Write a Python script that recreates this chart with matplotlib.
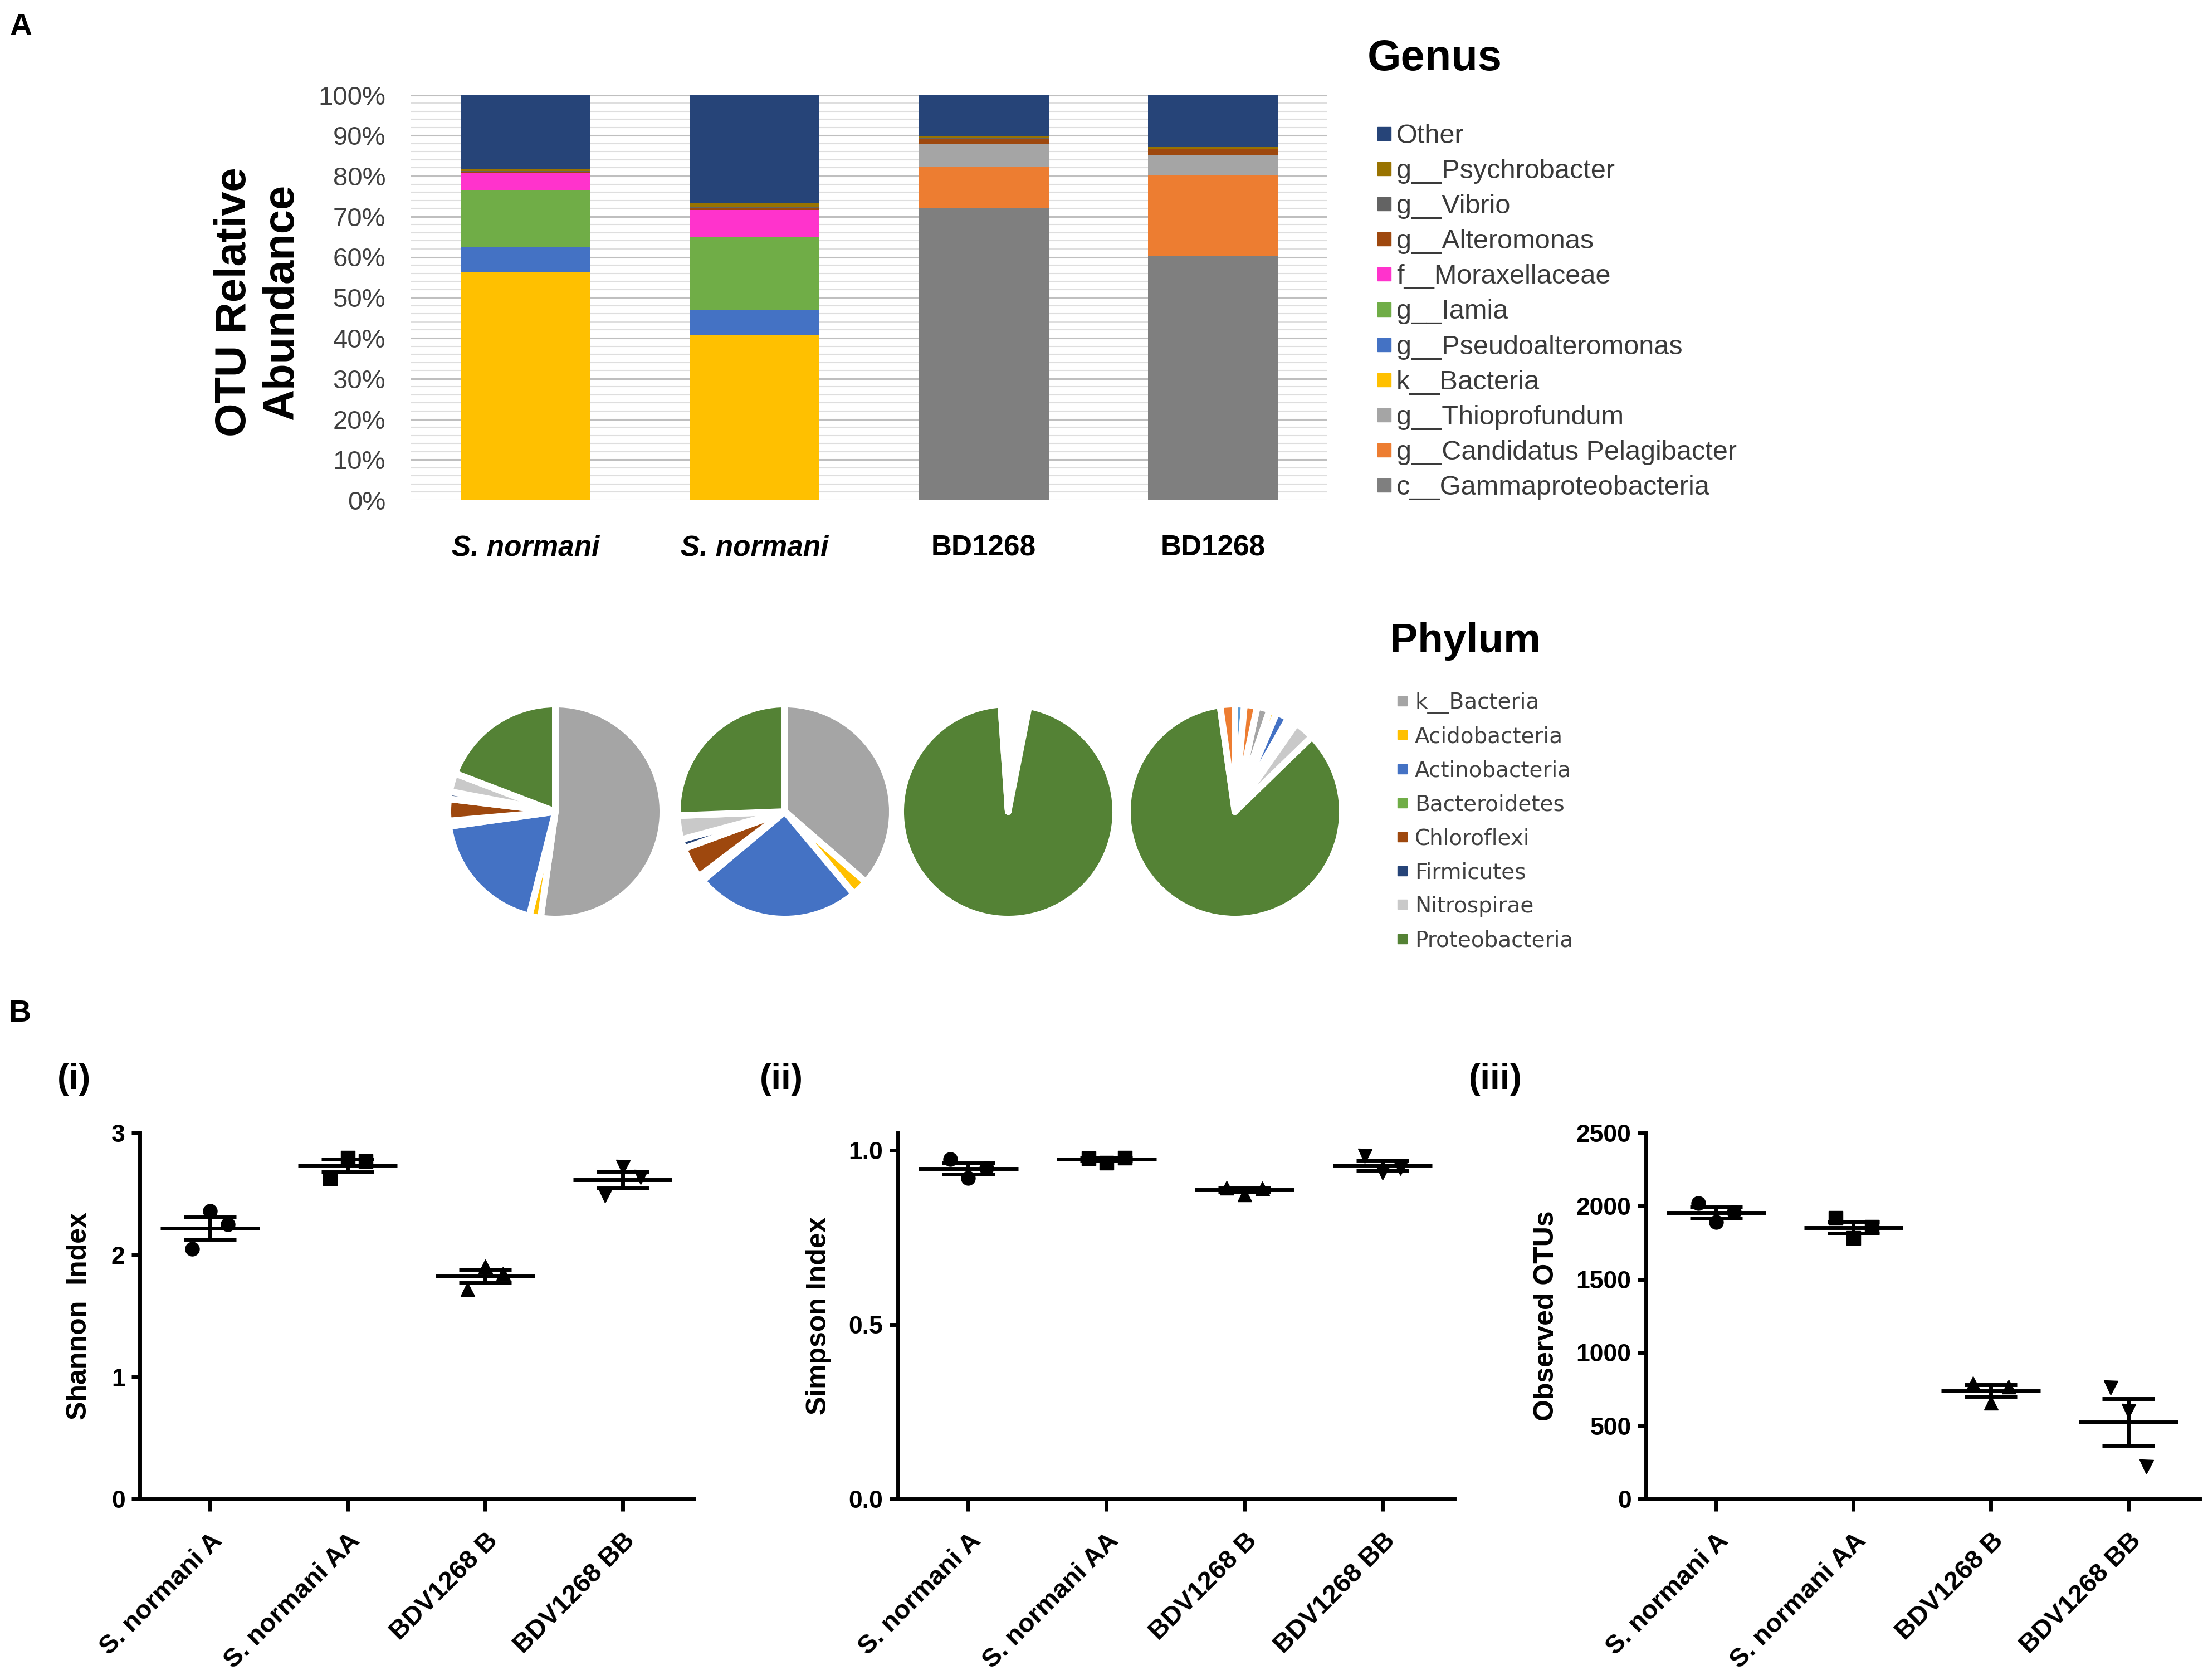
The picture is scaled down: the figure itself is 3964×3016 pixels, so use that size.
import matplotlib
matplotlib.use('Agg')
import matplotlib.pyplot as plt
from matplotlib.patches import Rectangle
from matplotlib.ticker import MultipleLocator, FixedLocator, FuncFormatter
import numpy as np

plt.rcParams['font.family'] = ['Liberation Sans', 'DejaVu Sans']

W, H = 3964, 3016
def fx(p):
    return p / W
def fy(p):
    return 1 - p / H

# ------------------------------------------------------------------ data
# Panel A - genus level relative abundance (%), stacked bottom -> top
samples = ['S. normani', 'S. normani', 'BD1268', 'BD1268']
sample_italic = [True, True, False, False]

genus_names = ['c__Gammaproteobacteria', 'g__Candidatus Pelagibacter', 'g__Thioprofundum',
               'k__Bacteria', 'g__Pseudoalteromonas', 'g__Iamia', 'f__Moraxellaceae',
               'g__Alteromonas', 'g__Vibrio', 'g__Psychrobacter', 'Other']
genus_colors = ['#7F7F7F', '#ED7D31', '#A5A5A5', '#FFC000', '#4472C4', '#70AD47',
                '#FF33CC', '#9E480E', '#636363', '#997300', '#264478']

gammaproteobacteria = [0.0, 0.0, 72.0, 60.4]
candidatus_pelagibacter = [0.0, 0.0, 10.4, 19.7]
thioprofundum = [0.0, 0.0, 5.6, 5.1]
k_bacteria = [56.4, 40.8, 0.0, 0.0]
pseudoalteromonas = [6.2, 6.2, 0.0, 0.0]
iamia = [14.0, 18.0, 0.0, 0.0]
moraxellaceae = [4.1, 6.6, 0.0, 0.0]
alteromonas = [0.3, 0.4, 1.2, 1.4]
vibrio = [0.2, 0.3, 0.3, 0.2]
psychrobacter = [0.6, 0.9, 0.4, 0.3]
other = [18.2, 26.8, 10.1, 12.9]
genus_values = [gammaproteobacteria, candidatus_pelagibacter, thioprofundum, k_bacteria,
                pseudoalteromonas, iamia, moraxellaceae, alteromonas, vibrio,
                psychrobacter, other]

# Panel A - phylum level pies (%, clockwise from start angle)
phyla = ['k__Bacteria', 'Acidobacteria', 'Actinobacteria', 'Bacteroidetes',
         'Chloroflexi', 'Firmicutes', 'Nitrospirae', 'Proteobacteria']
phyla_colors = ['#A5A5A5', '#FFC000', '#4472C4', '#70AD47', '#9E480E', '#264478',
                '#C9C9C9', '#548235']
minor_phyla_colors = ['#ED7D31', '#5B9BD5', '#ED7D31']   # unlabelled minor phyla
pie_1 = [52.2, 1.7, 18.9, 0.8, 3.3, 1.1, 2.8, 19.2, 0.0, 0.0, 0.0]
pie_2 = [36.4, 2.5, 25.0, 0.8, 4.7, 1.4, 3.6, 25.6, 0.0, 0.0, 0.0]
pie_3 = [0.5, 0.3, 0.6, 0.3, 0.3, 0.3, 0.8, 95.8, 0.4, 0.3, 0.4]
pie_4 = [1.9, 1.1, 1.9, 0.3, 0.3, 0.8, 3.0, 84.2, 2.2, 1.4, 1.9]
pies = [pie_1, pie_2, pie_3, pie_4]

# Panel B - alpha diversity (three replicates per group)
groups = ['S. normani A', 'S. normani AA', 'BDV1268 B', 'BDV1268 BB']
shannon = [[2.05, 2.36, 2.25], [2.63, 2.80, 2.77], [1.72, 1.91, 1.85], [2.49, 2.72, 2.64]]
simpson = [[0.975, 0.92, 0.95], [0.978, 0.965, 0.98], [0.893, 0.875, 0.892], [0.985, 0.937, 0.95]]
observed_otus = [[2020, 1890, 1960], [1920, 1785, 1860], [790, 660, 770], [760, 600, 220]]

# ------------------------------------------------------------------ figure
fig = plt.figure(figsize=(W / 100, H / 100), dpi=100)

fig.text(fx(18), fy(63), 'A', fontsize=40, fontweight='bold', va='baseline', ha='left')
fig.text(fx(15), fy(1834), 'B', fontsize=40, fontweight='bold', va='baseline', ha='left')

# ---- stacked bars
axA = fig.add_axes([fx(738), fy(898), fx(2383) - fx(738), fy(170.5) - fy(898)])
x = np.arange(len(samples))
bottom = np.zeros(len(samples))
for vals, col in zip(genus_values, genus_colors):
    axA.bar(x, vals, width=0.567, bottom=bottom, color=col, linewidth=0, zorder=3)
    bottom += np.array(vals)
axA.set_xlim(-0.5, 3.5)
axA.set_ylim(0, 100)
axA.yaxis.set_major_locator(MultipleLocator(10))
axA.yaxis.set_minor_locator(FixedLocator([v for v in range(0, 101, 2) if v % 10]))
axA.yaxis.set_major_formatter(FuncFormatter(lambda v, p: f'{v:.0f}%'))
axA.grid(axis='y', which='major', color='#BFBFBF', lw=2.2, zorder=0)
axA.grid(axis='y', which='minor', color='#DEDEDE', lw=1.5, zorder=0)
axA.set_axisbelow(True)
for s in axA.spines.values():
    s.set_visible(False)
axA.tick_params(axis='both', which='both', length=0)
axA.tick_params(axis='y', pad=33, labelsize=34, labelcolor='#404040')
axA.set_xticks(x)
axA.set_xticklabels(samples, fontsize=37, fontweight='bold')
for lbl, it in zip(axA.get_xticklabels(), sample_italic):
    if it:
        lbl.set_fontstyle('italic')
axA.tick_params(axis='x', pad=44)

fig.text(fx(463), fy(542), 'OTU Relative\nAbundance', rotation=90, fontsize=56,
         fontweight='bold', ha='center', va='center', multialignment='center',
         linespacing=1.2)

# genus legend
fig.text(fx(2455), fy(126), 'Genus', fontsize=56, fontweight='bold', ha='left', va='baseline')
for i, (name, col) in enumerate(zip(genus_names[::-1], genus_colors[::-1])):
    yc = 240 + i * 63.1
    fig.add_artist(Rectangle((fx(2473), fy(yc + 12)), 24 / W, 24 / H, color=col,
                             transform=fig.transFigure))
    fig.text(fx(2507), fy(yc + 17), name, fontsize=35, color='#3A3A3A',
             ha='left', va='baseline')

# ---- pies
pie_cx = [997, 1409, 1810, 2217]
pie_cy = 1457
R = 193
pie_start = [90, 90, 90, 78]
pie_colors = phyla_colors + minor_phyla_colors
for cx, vals, st in zip(pie_cx, pies, pie_start):
    ax = fig.add_axes([fx(cx - R), fy(pie_cy + R), 2 * R / W, 2 * R / H])
    ax.pie(vals, colors=pie_colors, startangle=st, counterclock=False, radius=1,
           wedgeprops=dict(edgecolor='white', linewidth=8.6, joinstyle='round'))
    ax.set_xlim(-1, 1)
    ax.set_ylim(-1, 1)
    ax.set_aspect('equal')
    ax.axis('off')

# phylum legend
fig.text(fx(2495), fy(1171), 'Phylum', fontsize=54, fontweight='bold', ha='left', va='baseline')
for i, (name, col) in enumerate(zip(phyla, phyla_colors)):
    yc = 1258 + i * 61
    fig.add_artist(Rectangle((fx(2509), fy(yc + 8.5)), 17 / W, 17 / H, color=col,
                             transform=fig.transFigure))
    fig.text(fx(2540), fy(yc + 14), name, fontsize=28, color='#404040',
             ha='left', va='baseline', family=['DejaVu Sans'])

# ---- panel B
markers = ['o', 's', '^', 'v']
jitter = np.array([-0.13, 0.0, 0.13])

def scatter_panel(ax, data, ylim, yticks, yticklabels, ylabel, label_x):
    for i, vals in enumerate(data):
        vals = np.asarray(vals, dtype=float)
        m = vals.mean()
        s = vals.std(ddof=1) / np.sqrt(len(vals))
        ax.vlines(i, m - s, m + s, color='black', lw=5, zorder=2)
        ax.hlines([m - s, m + s], i - 0.19, i + 0.19, color='black', lw=5, zorder=2)
        ax.plot(i + jitter, vals, marker=markers[i], ls='none', color='black', ms=18,
                zorder=3, clip_on=False)
        ax.hlines(m, i - 0.36, i + 0.36, color='black', lw=5, zorder=4)
    ax.set_xlim(-0.51, 3.52)
    ax.set_ylim(*ylim)
    ax.spines['top'].set_visible(False)
    ax.spines['right'].set_visible(False)
    ax.spines['left'].set_linewidth(5)
    ax.spines['bottom'].set_linewidth(5)
    ax.set_yticks(yticks)
    ax.set_yticklabels(yticklabels, fontsize=32, fontweight='bold')
    ax.set_xticks(range(len(groups)))
    ax.set_xticklabels(groups, rotation=45, ha='right', va='top', rotation_mode='anchor',
                       fontsize=34, fontweight='bold')
    ax.tick_params(axis='x', length=16, width=5, pad=22)
    ax.tick_params(axis='y', length=11, width=5, pad=8)
    ax.set_ylabel(ylabel, fontsize=36, fontweight='bold')
    ax.yaxis.label.set_va('center')
    ax.yaxis.set_label_coords(label_x, 0.5)

bottomB = fy(2691)
heightB = fy(2034) - fy(2691)
ax1 = fig.add_axes([fx(251), bottomB, fx(1246) - fx(251), heightB])
scatter_panel(ax1, shannon, (0, 3), [0, 1, 2, 3], ['0', '1', '2', '3'],
              'Shannon  Index', -0.1095)
ax2 = fig.add_axes([fx(1612), bottomB, fx(2611) - fx(1612), heightB])
scatter_panel(ax2, simpson, (0, 1.05), [0, 0.5, 1.0], ['0.0', '0.5', '1.0'],
              'Simpson Index', -0.142)
ax3 = fig.add_axes([fx(2955), bottomB, fx(3949) - fx(2955), heightB])
scatter_panel(ax3, observed_otus, (0, 2500), [0, 500, 1000, 1500, 2000, 2500],
              ['0', '500', '1000', '1500', '2000', '2500'], 'Observed OTUs', -0.18)

fig.text(fx(103), fy(1938), '(i)', fontsize=46, fontweight='bold', ha='left', va='center')
fig.text(fx(1364), fy(1938), '(ii)', fontsize=46, fontweight='bold', ha='left', va='center')
fig.text(fx(2637), fy(1938), '(iii)', fontsize=46, fontweight='bold', ha='left', va='center')

fig.savefig('out.png', dpi=100)
